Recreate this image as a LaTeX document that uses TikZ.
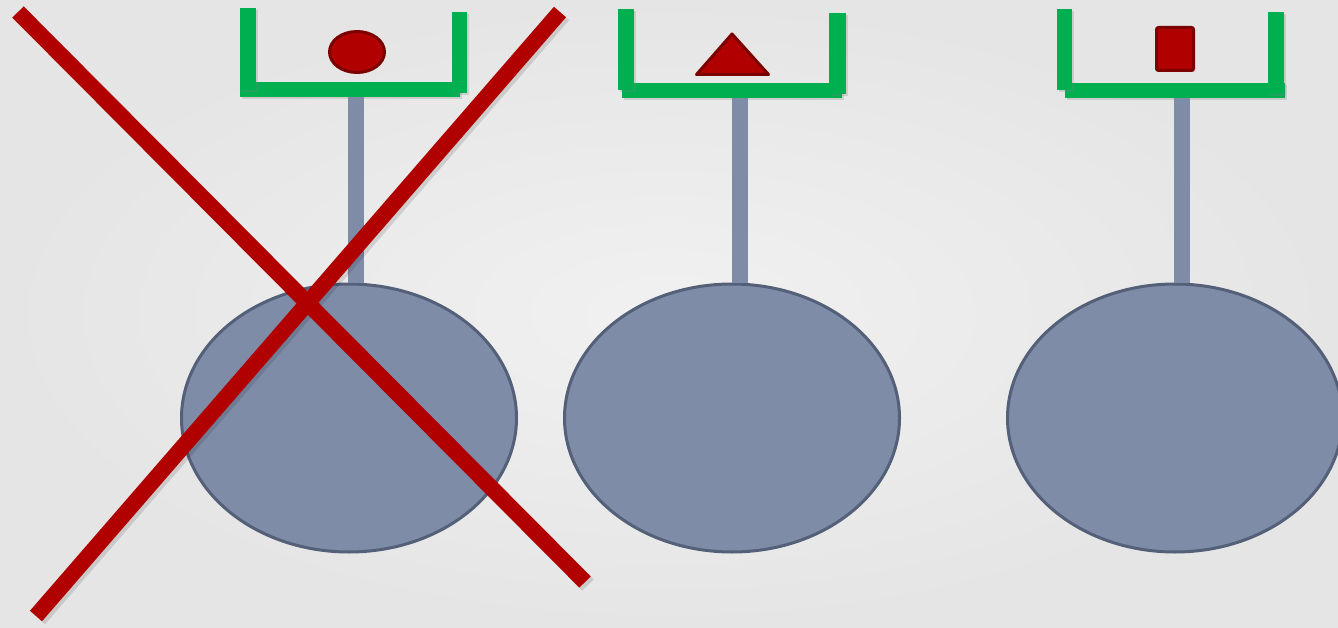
\documentclass[tikz,border=0pt]{standalone}
\usetikzlibrary{shapes.geometric, shadows, positioning}

\definecolor{postgreen}{RGB}{0,176,80}
\definecolor{markred}{RGB}{176,0,0}
\definecolor{markedge}{RGB}{125,0,0}
\definecolor{bodyblue}{RGB}{127,140,168}
\definecolor{bodyedge}{RGB}{84,95,120}
\definecolor{paperlight}{RGB}{241,241,241}
\definecolor{paperdark}{RGB}{229,229,229}

\begin{document}
\begin{tikzpicture}[
  x=1pt, y=-1pt,
  soft/.style={drop shadow={opacity=0.25, shadow xshift=2pt, shadow yshift=-2pt}},
  post/.style={fill=postgreen, soft},
  bar/.style={
    rectangle, fill=postgreen, draw=none, inner sep=0pt,
    minimum width=220pt, minimum height=15pt, soft
  },
  body/.style={
    ellipse, draw=bodyedge, line width=3pt, fill=bodyblue, inner sep=0pt,
    minimum width=335pt, minimum height=268pt
  },
  stem/.style={draw=bodyblue, line width=16pt, shorten >=-1pt},
  token/.style={fill=markred, draw=markedge, line width=3pt, line join=round},
  cross/.style={draw=markred, line width=16pt},
  crossshade/.style={draw=black, opacity=0.12, line width=16pt},
]
  % Paper
  \useasboundingbox (0,0) rectangle (1338,628);
  \shade[inner color=paperlight, outer color=paperdark] (0,0) rectangle (1338,628);

  % Bodies
  \node[body] (body1) at (349,418) {};
  \node[body] (body2) at (732,418) {};
  \node[body] (body3) at (1175,418) {};

  % Cross bars of the holders
  \node[bar] (bar1) at (350,90) {};
  \node[bar] (bar2) at (732,90.5) {};
  \node[bar] (bar3) at (1175,90.5) {};

  % Stems hang from the holders
  \coordinate (hook1) at (356,97);
  \coordinate (hook2) at (740,98);
  \coordinate (hook3) at (1182,98);
  \draw[stem] (hook1) -- (hook1 |- body1.north);
  \draw[stem] (hook2) -- (hook2 |- body2.north);
  \draw[stem] (hook3) -- (hook3 |- body3.north);

  % Uprights
  \fill[post] (240,8) rectangle (256,90);
  \fill[post] (452,12) rectangle (467,93);
  \fill[post] (618,9) rectangle (634,90);
  \fill[post] (829,13) rectangle (846,94);
  \fill[post] (1057,9) rectangle (1072,90);
  \fill[post] (1268,12) rectangle (1284,94);

  % Tokens in the holders
  \draw[token] (357,52) ellipse[x radius=27.5, y radius=20.5];
  \draw[token] (732,34) -- (768.5,74.5) -- (696.5,74.5) -- cycle;
  \draw[token, rounded corners=2pt] (1156.5,27.5) rectangle (1193.5,70.5);

  % Strike-through
  \draw[crossshade] (21,15) -- (588,585);
  \draw[crossshade] (563,15) -- (39,619);
  \draw[cross] (18,12) -- (585,582);
  \draw[cross] (560,12) -- (36,616);
\end{tikzpicture}
\end{document}
